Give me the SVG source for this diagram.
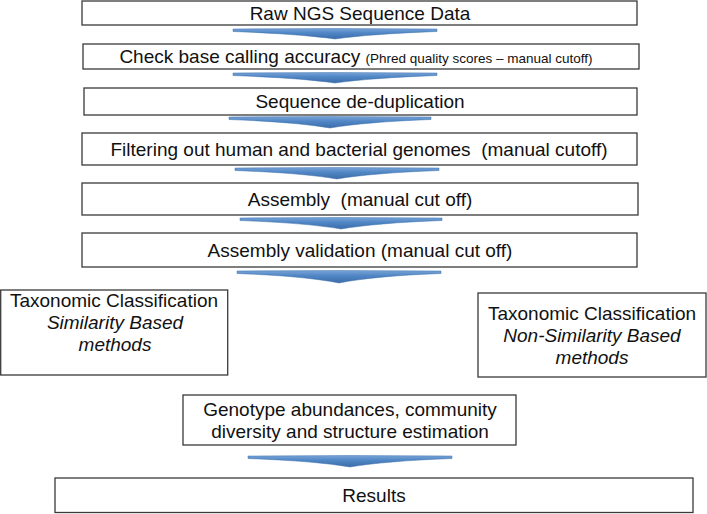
<svg xmlns="http://www.w3.org/2000/svg" width="707" height="514" viewBox="0 0 707 514">
<style>
.box{fill:#fff;stroke:#3a3a3a;stroke-width:1.3}
.t{font-family:"Liberation Sans",Arial,sans-serif;font-size:19px;fill:#111;text-anchor:middle;white-space:pre}
.i{font-style:italic}
.arr{fill:url(#g);stroke:#3f72ad;stroke-width:0.5}
</style>
<defs>
<linearGradient id="g" x1="0" y1="0" x2="0" y2="1">
<stop offset="0" stop-color="#79a4d8"/>
<stop offset="0.4" stop-color="#5287c6"/>
<stop offset="1" stop-color="#3a6ca8"/>
</linearGradient>
</defs>
<rect width="707" height="514" fill="#fff"/>
<g id="connectors">
<path class="arr" d="M233,29 Q335,28 437,29 L437,31.5 Q370,34 335,39 Q300,34 233,31.5 Z"/>
<path class="arr" d="M233,73 Q335,72 437,73 L437,75.5 Q370,78 335,83 Q300,78 233,75.5 Z"/>
<path class="arr" d="M229,117 Q330,116 431,117 L431,119.5 Q365,122 330,128 Q295,122 229,119.5 Z"/>
<path class="arr" d="M235,168 Q337,167 439,168 L439,170.5 Q372,173 337,179 Q302,173 235,170.5 Z"/>
<path class="arr" d="M240,218 Q341,217 442,218 L442,220.5 Q376,223 341,229 Q306,223 240,220.5 Z"/>
<path class="arr" d="M237,271 Q339,270 441,271 L441,273.5 Q374,276 339,283 Q304,276 237,273.5 Z"/>
<path class="arr" d="M248,456 Q350,455 452,456 L452,458.5 Q385,461 350,467 Q315,461 248,458.5 Z"/>
</g>
<g id="n1"><rect class="box" x="82" y="1" width="555" height="24"/><text class="t" x="360" y="19.5">Raw NGS Sequence Data</text></g>
<g id="n2"><rect class="box" x="83" y="44" width="556" height="25"/><text class="t" x="356" y="63">Check base calling accuracy <tspan font-size="13.5px">(Phred quality scores – manual cutoff)</tspan></text></g>
<g id="n3"><rect class="box" x="84" y="88" width="553" height="27"/><text class="t" x="360" y="108">Sequence de-duplication</text></g>
<g id="n4"><rect class="box" x="82" y="133" width="555" height="32"/><text class="t" x="359" y="156">Filtering out human and bacterial genomes  (manual cutoff)</text></g>
<g id="n5"><rect class="box" x="82" y="183" width="556" height="32"/><text class="t" x="360" y="206">Assembly  (manual cut off)</text></g>
<g id="n6"><rect class="box" x="82" y="233" width="555" height="34"/><text class="t" x="360" y="257">Assembly validation (manual cut off)</text></g>
<g id="n7"><rect class="box" x="0.7" y="290" width="227" height="85"/>
<text class="t" x="114" y="306.5">Taxonomic Classification</text>
<text class="t i" x="115" y="328.5">Similarity Based</text>
<text class="t i" x="115" y="350.5">methods</text></g>
<g id="n8"><rect class="box" x="478" y="293" width="228" height="84"/>
<text class="t" x="592" y="319.5">Taxonomic Classification</text>
<text class="t i" x="592" y="341.5">Non-Similarity Based</text>
<text class="t i" x="592" y="363.5">methods</text></g>
<g id="n9"><rect class="box" x="183" y="395" width="333" height="50"/>
<text class="t" x="350" y="416">Genotype abundances, community</text>
<text class="t" x="350" y="438">diversity and structure estimation</text></g>
<g id="n10"><rect class="box" x="55" y="478" width="638" height="34.5"/><text class="t" x="374" y="501.5">Results</text></g>
</svg>
